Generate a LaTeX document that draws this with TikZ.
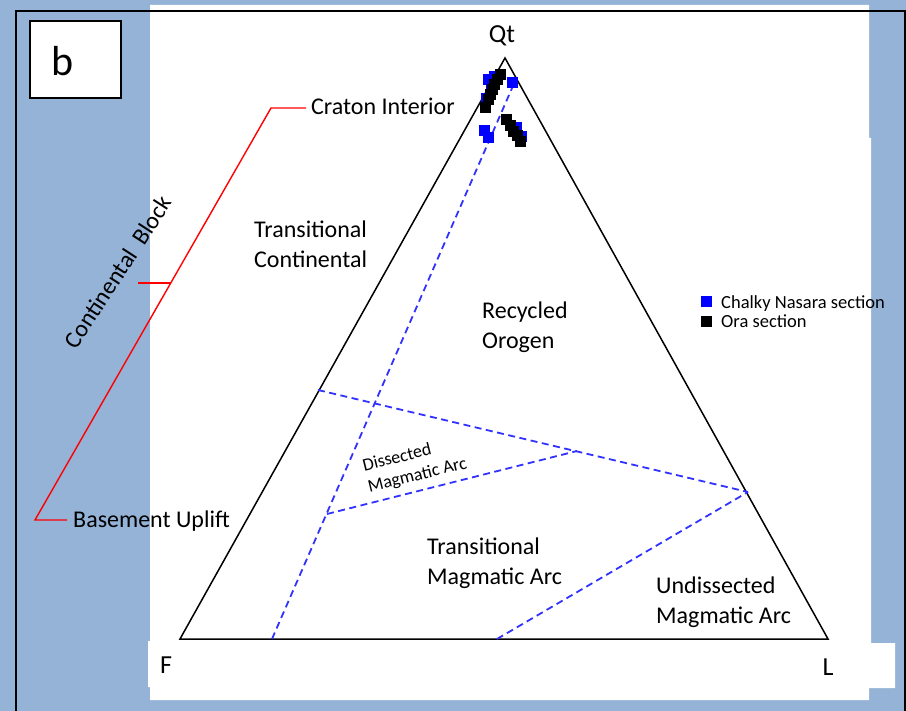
\documentclass[tikz,border=0pt]{standalone}
\usepackage{fontspec}
\setmainfont{Carlito}
\definecolor{bgblue}{RGB}{149,179,215}
\definecolor{dashblue}{RGB}{50,50,255}
\definecolor{ptblue}{RGB}{0,0,255}
\begin{document}
\begin{tikzpicture}[x=1pt,y=-1pt,
  lbl/.style={inner sep=0pt, font=\fontsize{24}{30}\selectfont},
  vtx/.style={inner sep=0pt, font=\fontsize{26}{30}\selectfont},
  small/.style={inner sep=0pt, font=\fontsize{18}{22}\selectfont},
  leg/.style={inner sep=0pt, font=\fontsize{18.5}{22}\selectfont},
  edge/.style={line width=1.5pt, black},
  field/.style={line width=1.8pt, dashblue, dash pattern=on 7pt off 4.5pt},
  redline/.style={line width=1.4pt, red},
  bpt/.style={fill=ptblue, minimum size=11pt, inner sep=0pt, outer sep=0pt},
  kpt/.style={fill=black, minimum size=11pt, inner sep=0pt, outer sep=0pt}]
\useasboundingbox (0,0) rectangle (906,711);
\fill[bgblue] (0,0) rectangle (906,711);
\fill[white] (150,5) -| (869,138) -| (871,643) -| (895,688) -| (869,700) -| (150,687) -| (148,641) -| (150,5) -- cycle;
\draw[line width=2.5pt] (16,716) -- (16,11) -- (905,11) -- (905,716);
% panel label
\draw[line width=1.5pt, fill=white] (30,21) rectangle (121,98);
\node[inner sep=0pt, font=\fontsize{42}{44}\selectfont, anchor=base] (panel) at (62.5,76) {b};
% triangle
\coordinate (Qt) at (505,58);
\coordinate (F) at (180,639);
\coordinate (L) at (828,639);
\draw[edge] (F) -- (Qt) -- (L) -- cycle;
% field boundaries
\coordinate (d1a) at (272,639);
\coordinate (d1b) at (516,79);
\coordinate (d2a) at (318,390);
\coordinate (d2b) at (748,492);
\coordinate (d3a) at (327,514);
\coordinate (d3b) at (577,451);
\coordinate (d4a) at (497,639);
\draw[field] (d1a) -- (d1b);
\draw[field] (d2a) -- (d2b);
\draw[field] (d3a) -- (d3b);
\draw[field] (d4a) -- (d2b);
% vertex labels
\node[vtx, anchor=base] (tQt) at (502,43) {Qt};
\node[vtx, anchor=base] (tF) at (166,673) {F};
\node[vtx, anchor=base] (tL) at (828,675) {L};
% field labels
\node[lbl, anchor=base west] (craton) at (311,115) {Craton Interior};
\node[lbl, align=left, anchor=west] (transcont) at (254,244) {Transitional\\Continental};
\node[lbl, align=left, anchor=west] (recycled) at (482,327) {Recycled\\Orogen};
\node[small, align=left, anchor=north west, rotate=14] (dissected) at (361,459) {Dissected\\Magmatic Arc};
\node[lbl, align=left, anchor=west] (transarc) at (427,563) {Transitional\\Magmatic Arc};
\node[lbl, align=left, anchor=west] (undiss) at (656,602) {Undissected\\Magmatic Arc};
\node[lbl, anchor=base west] (basement) at (73,528) {Basement Uplift};
\node[lbl, rotate=57] (contblock) at (118,272) {Continental\ \ Block};
% red bracket
\coordinate (r1) at (306,108);
\coordinate (r2) at (271,108);
\coordinate (r3) at (35,520);
\coordinate (r4) at (67,520);
\coordinate (t1) at (138,283);
\coordinate (t2) at (171,283);
\draw[redline] (r1) -- (r2) -- (r3) -- (r4);
\draw[redline] (t1) -- (t2);
% legend
\node[bpt] (legb) at (706,302) {};
\node[kpt] (legk) at (706,321.5) {};
\node[leg, anchor=base west] (legbt) at (721,309) {Chalky Nasara section};
\node[leg, anchor=base west] (legkt) at (721,328) {Ora section};
% data points
\foreach \x/\y [count=\i] in {488/80,491/86,512/83,486/99,484/131,488/138,516/128,521/137,494/77}
  \node[bpt] (b\i) at (\x,\y) {};
\foreach \x/\y [count=\i] in {500/75,497/80,494/85,492/90,490/95,488/100,485/108,506/120,510/126,513/132,517/136,520/142}
  \node[kpt] (k\i) at (\x,\y) {};
\end{tikzpicture}
\end{document}
